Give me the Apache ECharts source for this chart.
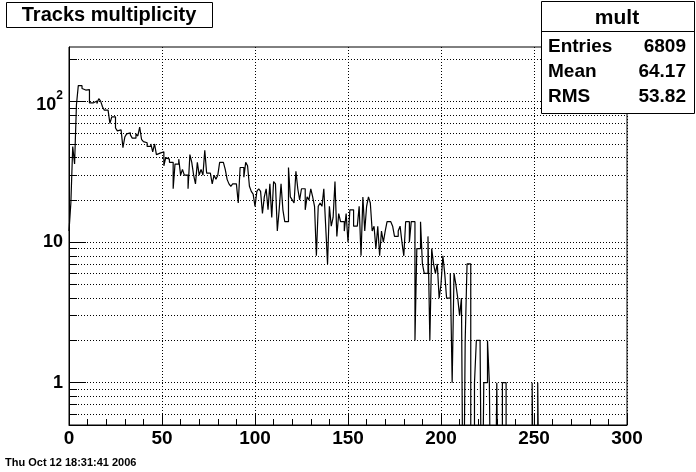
<!DOCTYPE html>
<html><head><meta charset="utf-8">
<script src="https://cdn.jsdelivr.net/npm/echarts@6/dist/echarts.min.js"></script>
<style>html,body{margin:0;padding:0;background:#fff}#c{width:696px;height:472px}</style>
</head><body><div id="c"></div>
<script>
// bin contents, bins of width 1 starting at 0
const counts = [
12,19,48,36,95,130,130,124,121,124,
122,98,98,100,101,97,105,101,92,87,
87,88,70,78,78,65,62,63,61,47,
56,59,60,58,55,55,59,57,66,54,
52,51,48,48,50,44,50,42,43,43,
44,35,40,39,37,37,24,36,36,39,
30,33,30,30,24,42,37,30,26,37,
30,33,30,45,31,31,31,26,30,28,
30,37,37,37,33,28,26,25,26,26,
26,19,34,34,29,37,35,25,23,22,
18,23,24,23,16,21,24,17,26,15,
27,26,12,17,26,17,14,14,34,21,
20,19,32,24,20,24,24,17,21,20,
24,21,18,8,18,19,18,24,13,7,
18,13,15,27,11,16,14,14,12,16,
10,17,17,13,13,13,18,8,21,12,
18,21,19,12,13,9,13,8,12,10,
12,14,14,14,13,11,11,12,13,10,
8,14,14,10,14,14,2,9,9,14,
7,6,6,11,2,9,7,6,7,4,
5,8,6,4,4,6,1,6,5,4,
3,4,0,2,7,7,0,0,1,2,
2,2,0,1,1,2,1,0,0,0,
1,0,0,1,1,0,0,0,0,0,
0,0,0,0,0,0,0,0,0,1,
0,0,1,0,0,0
];
const binWidth = 1;
const xMin = 0, xMax = 300, xStep = 50;
const yMin = 0.5, yMax = 245;
const yMajor = [1, 10, 100];
const yMinor = [0.6,0.7,0.8,0.9,2,3,4,5,6,7,8,9,20,30,40,50,60,70,80,90,200];
const yGrid = [0.6,0.7,0.8,0.9,1,2,3,4,5,6,7,8,9,10,20,30,40,50,60,70,80,90,100,200];
const titleText = 'Tracks multiplicity';
const statsName = 'mult';
const statsLabels = ['Entries', 'Mean', 'RMS'];
const statsValues = ['6809', '64.17', '53.82'];
const dateText = 'Thu Oct 12 18:31:41 2006';

const FLOOR = 0.05; // empty bins drop below the axis minimum (as in ROOT log drawing)
const pts = counts.map((c, i) => [i * binWidth, c > 0 ? c : FLOOR]);
pts.push([counts.length * binWidth, FLOOR]);

const FONT = '"Liberation Sans", Arial, Helvetica, sans-serif';
const chart = echarts.init(document.getElementById('c'), null, {renderer: 'canvas'});

const statRowsGraphic = [];
statsLabels.forEach((lab, k) => {
  const y = 47 + k * 25;
  statRowsGraphic.push({type: 'text', z: 101, x: 548, y: y,
    style: {text: lab, font: 'bold 19px ' + FONT, fill: '#000', align: 'left', verticalAlign: 'middle'}});
  statRowsGraphic.push({type: 'text', z: 101, x: 686, y: y,
    style: {text: statsValues[k], font: 'bold 19px ' + FONT, fill: '#000', align: 'right', verticalAlign: 'middle'}});
});

chart.setOption({
  animation: false,
  backgroundColor: '#fff',
  grid: {left: 69, right: 69, top: 47, bottom: 47, show: true, borderColor: '#000', borderWidth: 1,
         backgroundColor: 'transparent', outerBoundsMode: 'none'},
  xAxis: {
    type: 'value', min: xMin, max: xMax, interval: xStep,
    axisLine: {show: true, lineStyle: {color: '#000', width: 1}},
    axisTick: {show: true, inside: true, length: 12, lineStyle: {color: '#000'}},
    minorTick: {show: true, splitNumber: 5, length: 6, lineStyle: {color: '#000'}},
    axisLabel: {color: '#000', fontFamily: FONT, fontWeight: 'bold', fontSize: 19, margin: 4},
    splitLine: {show: true, lineStyle: {color: '#000', type: [1, 2], width: 1}}
  },
  yAxis: [{
    type: 'log', logBase: 10, min: yMin, max: yMax,
    axisLine: {show: true, lineStyle: {color: '#000', width: 1}},
    axisTick: {show: true, inside: true, length: 17, customValues: yMajor, lineStyle: {color: '#000'}},
    minorTick: {show: false},
    splitLine: {show: false},
    axisLabel: {
      customValues: yMajor, margin: 6, color: '#000',
      formatter: v => v >= 100 ? '{b|10}{s|2}' : '{a|' + Math.round(v) + '}',
      rich: {
        a: {fontFamily: FONT, fontWeight: 'bold', fontSize: 18, color: '#000'},
        b: {fontFamily: FONT, fontWeight: 'bold', fontSize: 18, color: '#000', padding: [6, 0, 0, 0]},
        s: {fontFamily: FONT, fontWeight: 'bold', fontSize: 12, color: '#000', verticalAlign: 'top'}
      }
    }
  }, {
    type: 'log', logBase: 10, min: yMin, max: yMax, position: 'left', offset: 0,
    axisLine: {show: false},
    axisTick: {show: true, inside: true, length: 8, customValues: yMinor, lineStyle: {color: '#000'}},
    axisLabel: {show: false},
    splitLine: {show: false}, minorTick: {show: false}
  }],
  series: [{
    type: 'line', step: 'end', data: pts, showSymbol: false, symbol: 'none',
    clip: true, yAxisIndex: 0,
    lineStyle: {color: '#000', width: 1.2},
    markLine: {
      silent: true, symbol: 'none', label: {show: false}, animation: false,
      lineStyle: {color: '#000', type: [1, 2], width: 1},
      emphasis: {disabled: true},
      data: yGrid.map(v => ({yAxis: v}))
    }
  }],
  graphic: [
    {type: 'rect', z: 100, shape: {x: 6.5, y: 2.5, width: 206, height: 25},
     style: {fill: '#fff', stroke: '#000', lineWidth: 1}},
    {type: 'text', z: 101, x: 109, y: 15,
     style: {text: titleText, font: 'bold 20px ' + FONT, fill: '#000', align: 'center', verticalAlign: 'middle'}},
    {type: 'rect', z: 100, shape: {x: 541.5, y: 1.5, width: 153, height: 112},
     style: {fill: '#fff', stroke: '#000', lineWidth: 1}},
    {type: 'line', z: 101, shape: {x1: 541.5, y1: 31.5, x2: 694.5, y2: 31.5},
     style: {stroke: '#000', lineWidth: 1}},
    {type: 'text', z: 101, x: 617, y: 18,
     style: {text: statsName, font: 'bold 21px ' + FONT, fill: '#000', align: 'center', verticalAlign: 'middle'}},
    ...statRowsGraphic,
    {type: 'text', z: 101, left: 5, top: 457,
     style: {text: dateText, font: 'bold 11px ' + FONT, fill: '#000'}}
  ]
});
</script>
</body></html>
